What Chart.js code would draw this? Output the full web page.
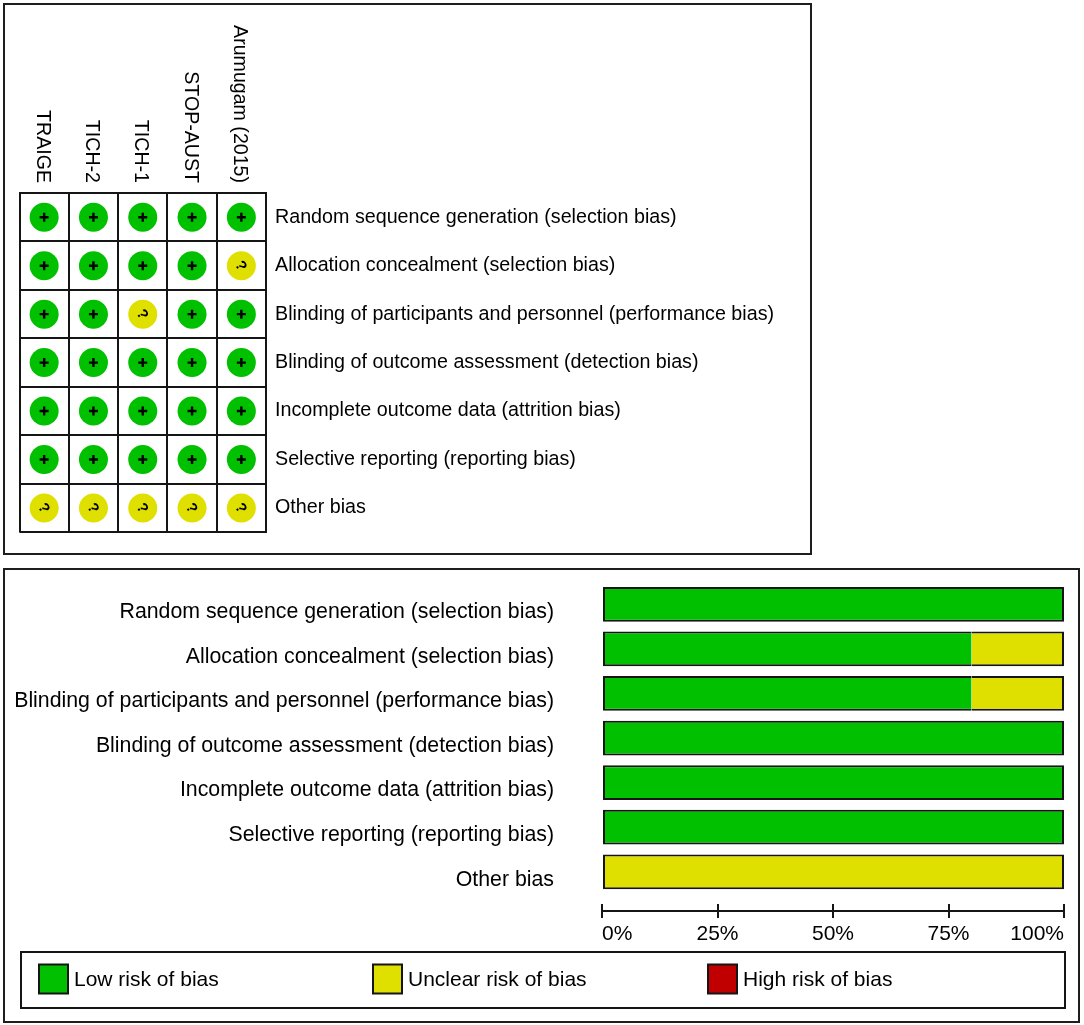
<!DOCTYPE html>
<html>
<head>
<meta charset="utf-8">
<script src="https://cdn.jsdelivr.net/npm/chart.js@4.4.1/dist/chart.umd.min.js"></script>
<style>
body { margin: 0; background: #fff; }
.panel { position: absolute; box-sizing: border-box; border: 2px solid #1e1e1e; }
#topPanel { left: 3px; top: 3px; width: 809px; height: 552px; }
#bottomPanel { left: 3px; top: 568px; width: 1077px; height: 455px; }
canvas { display: block; }
</style>
</head>
<body>
<div class="panel" id="topPanel"><canvas id="gridChart" width="805" height="548"></canvas></div>
<div class="panel" id="bottomPanel"><canvas id="barChart" width="1073" height="451"></canvas></div>
<script>
var studies = ['TRAIGE', 'TICH-2', 'TICH-1', 'STOP-AUST', 'Arumugam (2015)'];
var domains = [
	'Random sequence generation (selection bias)',
	'Allocation concealment (selection bias)',
	'Blinding of participants and personnel (performance bias)',
	'Blinding of outcome assessment (detection bias)',
	'Incomplete outcome data (attrition bias)',
	'Selective reporting (reporting bias)',
	'Other bias'
];

// judgement of each study, one entry per domain
var traige = ['low', 'low', 'low', 'low', 'low', 'low', 'unclear'];
var tich2 = ['low', 'low', 'low', 'low', 'low', 'low', 'unclear'];
var tich1 = ['low', 'low', 'unclear', 'low', 'low', 'low', 'unclear'];
var stopAust = ['low', 'low', 'low', 'low', 'low', 'low', 'unclear'];
var arumugam = ['low', 'unclear', 'low', 'low', 'low', 'low', 'unclear'];

// percentage of studies per domain
var lowRisk = [100, 80, 80, 100, 100, 100, 0];
var unclearRisk = [0, 20, 20, 0, 0, 0, 100];
var highRisk = [0, 0, 0, 0, 0, 0, 0];

var riskLabels = ['Low risk of bias', 'Unclear risk of bias', 'High risk of bias'];
var percentTicks = [0, 25, 50, 75, 100];

var colours = { low: '#00c000', unclear: '#e0e000', high: '#c00000' };
var family = "'Liberation Sans', Arial, sans-serif";
var lineCol = '#151515';

Chart.defaults.font.family = family;
Chart.defaults.color = '#000';

var judgements = [traige, tich2, tich1, stopAust, arumugam];

// symbols inside the circles
var symbolPlugin = {
	id: 'symbols',
	afterDatasetsDraw: function(chart) {
		var ctx = chart.ctx;
		chart.data.datasets.forEach(function(ds, k) {
			chart.getDatasetMeta(k).data.forEach(function(pt, i) {
				ctx.save();
				ctx.translate(pt.x, pt.y);
				ctx.fillStyle = '#000';
				ctx.strokeStyle = '#000';
				if (ds.judgement[i] == 'low') {
					ctx.lineWidth = 2.4;
					ctx.beginPath();
					ctx.moveTo(-4.5, 0); ctx.lineTo(4.5, 0);
					ctx.moveTo(0, -4.5); ctx.lineTo(0, 4.5);
					ctx.stroke();
				} else {
					ctx.rotate(Math.PI / 3);
					ctx.font = 'bold 15px ' + family;
					ctx.textAlign = 'center';
					ctx.textBaseline = 'middle';
					ctx.fillText('?', 0, 1);
				}
				ctx.restore();
			});
		});
	}
};

// study names written top to bottom above each column
var columnLabels = {
	id: 'columnLabels',
	afterDraw: function(chart) {
		var ctx = chart.ctx, xs = chart.scales.x, top = chart.chartArea.top;
		ctx.save();
		ctx.font = '19.6px ' + family;
		ctx.fillStyle = '#000';
		ctx.textAlign = 'right';
		ctx.textBaseline = 'middle';
		studies.forEach(function(s, i) {
			ctx.save();
			ctx.translate(xs.getPixelForValue(i) - 2, top - 10);
			ctx.rotate(Math.PI / 2);
			ctx.fillText(s, 0, 0);
			ctx.restore();
		});
		ctx.restore();
	}
};

var gridChart = new Chart(document.getElementById('gridChart'), {
	type: 'scatter',
	data: {
		datasets: studies.map(function(s, k) {
			return {
				label: s,
				judgement: judgements[k],
				data: domains.map(function(d) { return { x: s, y: d }; }),
				pointRadius: 14.5,
				pointHoverRadius: 14.5,
				pointBorderWidth: 0,
				pointBackgroundColor: judgements[k].map(function(j) { return colours[j]; })
			};
		})
	},
	options: {
		responsive: false,
		animation: false,
		events: [],
		layout: { padding: { left: 13, top: 188, right: 0, bottom: 13.5 } },
		plugins: { legend: { display: false }, tooltip: { enabled: false } },
		scales: {
			x: {
				type: 'category',
				labels: studies,
				position: 'top',
				offset: true,
				grid: { offset: true, color: lineCol, lineWidth: 2, drawTicks: false },
				border: { display: true, color: lineCol, width: 2 },
				ticks: { display: false },
				afterFit: function(s) { s.height = 0; }
			},
			y: {
				type: 'category',
				labels: domains,
				position: 'right',
				offset: true,
				grid: { offset: true, color: lineCol, lineWidth: 2, drawTicks: false },
				border: { display: true, color: lineCol, width: 2 },
				ticks: { padding: 9, font: { size: 19.7 } },
				afterFit: function(s) { s.width = 544; }
			}
		}
	},
	plugins: [symbolPlugin, columnLabels]
});

// bar chart
var shares = [lowRisk, unclearRisk, highRisk];

// outline only the outside of each whole bar
function segmentBorder(c) {
	var d = c.datasetIndex, i = c.dataIndex;
	if (i === undefined || !shares[d][i]) return 0;
	var before = shares.slice(0, d).some(function(a) { return a[i] > 0; });
	var after = shares.slice(d + 1).some(function(a) { return a[i] > 0; });
	return { top: 2, bottom: 2, left: before ? 0 : 2, right: after ? 0 : 2 };
}

// second half of each tick mark, above the axis line
var tickStubs = {
	id: 'tickStubs',
	afterDraw: function(chart) {
		var ctx = chart.ctx, xs = chart.scales.x, b = chart.chartArea.bottom;
		ctx.save();
		ctx.strokeStyle = lineCol;
		ctx.lineWidth = 2;
		xs.ticks.forEach(function(t) {
			var px = Math.round(xs.getPixelForValue(t.value));
			ctx.beginPath();
			ctx.moveTo(px, b - 7);
			ctx.lineTo(px, b);
			ctx.stroke();
		});
		ctx.restore();
	}
};

var legendOffsets = [18, 352, 687];
var legendBox = {
	id: 'legendBox',
	afterDraw: function(chart) {
		var ctx = chart.ctx;
		var left = 16, right = chart.chartArea.right + 1;
		var bottom = chart.height - 13, top = bottom - 56;
		var cy = (top + bottom) / 2 - 1;
		ctx.save();
		ctx.lineWidth = 2;
		ctx.strokeStyle = lineCol;
		ctx.strokeRect(left, top, right - left, bottom - top);
		ctx.font = '21px ' + family;
		ctx.textAlign = 'left';
		ctx.textBaseline = 'middle';
		chart.data.datasets.forEach(function(ds, k) {
			var bx = left + legendOffsets[k];
			ctx.fillStyle = ds.backgroundColor;
			ctx.fillRect(bx, cy - 14.5, 29, 29);
			ctx.strokeRect(bx, cy - 14.5, 29, 29);
			ctx.fillStyle = '#000';
			ctx.fillText(ds.label, bx + 35, cy + 1);
		});
		ctx.restore();
	}
};

var barData = {
	datasets: shares.map(function(vals, k) {
		return {
			label: riskLabels[k],
			data: vals.map(function(v, i) { return { x: v, y: i }; }),
			backgroundColor: [colours.low, colours.unclear, colours.high][k],
			borderColor: lineCol,
			borderWidth: segmentBorder,
			borderSkipped: false,
			barPercentage: 0.78,
			categoryPercentage: 1
		};
	})
};

var barChart = new Chart(document.getElementById('barChart'), {
	type: 'bar',
	data: barData,
	options: {
		indexAxis: 'y',
		responsive: false,
		animation: false,
		events: [],
		layout: { padding: { left: 0, top: 12, right: 14, bottom: 0 } },
		plugins: { legend: { display: false }, tooltip: { enabled: false } },
		scales: {
			x: {
				type: 'linear',
				bounds: 'data',
				min: 0,
				max: 100,
				stacked: true,
				afterBuildTicks: function(s) { s.ticks = percentTicks.map(function(v) { return { value: v }; }); },
				grid: { drawOnChartArea: false, drawTicks: true, tickLength: 7, color: lineCol, lineWidth: 2 },
				border: { display: true, color: lineCol, width: 2 },
				ticks: {
					align: 'inner',
					padding: 4,
					font: { size: 21 },
					callback: function(v) { return v + '%'; }
				},
				afterFit: function(s) { s.height = 110; }
			},
			y: {
				type: 'linear',
				bounds: 'data',
				offset: false,
				reverse: true,
				min: -0.5,
				max: 6.88,
				stacked: true,
				afterBuildTicks: function(s) { s.ticks = domains.map(function(d, i) { return { value: i }; }); },
				grid: { display: false, offset: false },
				border: { display: false },
				ticks: {
					includeBounds: false,
					padding: 40,
					labelOffset: 8,
					font: { size: 21.3 },
					callback: function(v) { return domains[v]; }
				},
				afterFit: function(s) {
					s.width = 597;
					s.paddingTop = 0;
					s.paddingBottom = 0;
				}
			}
		}
	},
	plugins: [tickStubs, legendBox]
});
</script>
</body>
</html>
